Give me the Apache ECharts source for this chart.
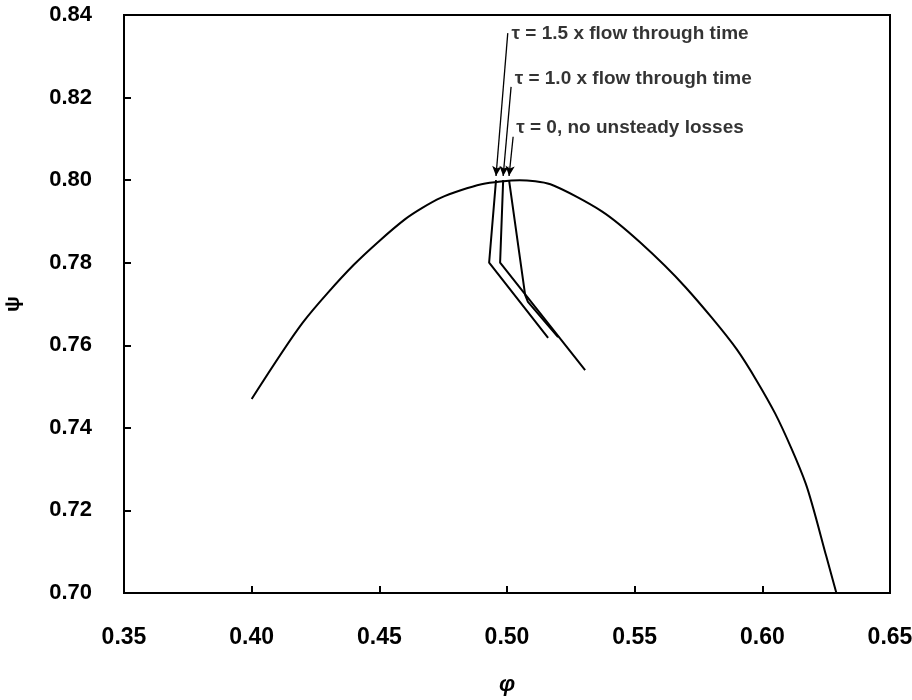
<!DOCTYPE html>
<html><head><meta charset="utf-8">
<script src="https://cdn.jsdelivr.net/npm/echarts@6/dist/echarts.min.js"></script>
<style>html,body{margin:0;padding:0;background:#fff}#c{width:912px;height:700px}</style>
</head><body><div id="c"></div>
<script>
// characteristic curve
const curvePhi = [0.400, 0.420, 0.440, 0.460, 0.474, 0.490, 0.505, 0.517, 0.537, 0.552, 0.570, 0.590, 0.605, 0.617, 0.625, 0.629];
const curvePsi = [0.747, 0.7655, 0.7795, 0.7905, 0.7957, 0.799, 0.800, 0.799, 0.7925, 0.7850, 0.7740, 0.7590, 0.7435, 0.7265, 0.7090, 0.700];
// trajectories
const traj15Phi = [0.4957, 0.4930, 0.5161];
const traj15Psi = [0.800, 0.780, 0.7618];
const traj10Phi = [0.4985, 0.4973, 0.5306];
const traj10Psi = [0.800, 0.780, 0.7540];
const traj0Phi = [0.5008, 0.5071, 0.5082, 0.5200];
const traj0Psi = [0.800, 0.7722, 0.7705, 0.7620];
// annotations
const annoText = ['\u03c4 = 1.5 x flow through time', '\u03c4 = 1.0 x flow through time', '\u03c4 = 0, no unsteady losses'];
const annoPhi = [0.5018, 0.5030, 0.5036];
const annoPsi = [0.8354, 0.8245, 0.8126];
const leaderStartPhi = [0.5003, 0.5016, 0.5024];
const leaderStartPsi = [0.8356, 0.8226, 0.8105];
const leaderEndPhi = [0.4957, 0.4985, 0.5008];
const leaderEndPsi = [0.8010, 0.8010, 0.8010];
const xTicks = [0.35, 0.40, 0.45, 0.50, 0.55, 0.60, 0.65];
const yTicks = [0.70, 0.72, 0.74, 0.76, 0.78, 0.80, 0.82, 0.84];

const zip = (a, b) => a.map((v, i) => [v, b[i]]);
const lineStyle = {color: '#000', width: 2};
const font = 'Liberation Sans, Arial, sans-serif';

const chart = echarts.init(document.getElementById('c'));
chart.setOption({
  animation: false,
  backgroundColor: '#fff',
  grid: {left: 124, right: 22, top: 15, bottom: 107, containLabel: false, outerBoundsMode: 'none',
    show: true, borderColor: '#000', borderWidth: 2, backgroundColor: 'transparent'},
  xAxis: {
    type: 'value', min: 0.35, max: 0.65, interval: 0.05,
    name: '\u03c6', nameLocation: 'middle', nameGap: 80,
    nameTextStyle: {fontFamily: font, fontSize: 23, fontStyle: 'italic', fontWeight: 'bold', color: '#000'},
    axisLine: {show: true, lineStyle: {color: '#000', width: 2}},
    axisTick: {show: true, inside: true, length: 7, lineStyle: {color: '#000', width: 2}},
    splitLine: {show: false},
    axisLabel: {margin: 33, fontFamily: font, fontSize: 23, fontWeight: 'bold', color: '#000',
      formatter: v => xTicks.find(t => Math.abs(t - v) < 1e-6).toFixed(2)}
  },
  yAxis: {
    type: 'value', min: 0.70, max: 0.84, interval: 0.02,
    name: '\u03c8', nameLocation: 'middle', nameGap: 100, nameRotate: 90,
    nameTextStyle: {fontFamily: font, fontSize: 21, fontWeight: 'bold', color: '#000'},
    axisLine: {show: true, lineStyle: {color: '#000', width: 2}},
    axisTick: {show: true, inside: true, length: 7, lineStyle: {color: '#000', width: 2}},
    splitLine: {show: false},
    axisLabel: {margin: 32, fontFamily: font, fontSize: 22, fontWeight: 'bold', color: '#000',
      formatter: v => yTicks.find(t => Math.abs(t - v) < 1e-6).toFixed(2)}
  },
  series: [
    {type: 'line', data: zip(curvePhi, curvePsi), smooth: 0.25, showSymbol: false, lineStyle: lineStyle},
    {type: 'line', data: zip(traj15Phi, traj15Psi), showSymbol: false, lineStyle: lineStyle},
    {type: 'line', data: zip(traj10Phi, traj10Psi), showSymbol: false, lineStyle: lineStyle},
    {type: 'line', data: zip(traj0Phi, traj0Psi), showSymbol: false, lineStyle: lineStyle},
    {
      type: 'scatter', symbolSize: 0, data: zip(annoPhi, annoPsi).map((p, i) => ({value: p, name: annoText[i]})),
      label: {show: true, position: 'right', distance: 0, formatter: p => p.name,
        fontFamily: font, fontSize: 19, fontWeight: 'bold', color: '#000'},
      markLine: {
        silent: true, symbol: ['none', 'arrow'], symbolSize: [7, 10], label: {show: false},
        lineStyle: {color: '#000', width: 1.3, type: 'solid'},
        data: leaderStartPhi.map((x, i) => [{coord: [x, leaderStartPsi[i]]}, {coord: [leaderEndPhi[i], leaderEndPsi[i]]}])
      }
    }
  ]
});
</script></body></html>
